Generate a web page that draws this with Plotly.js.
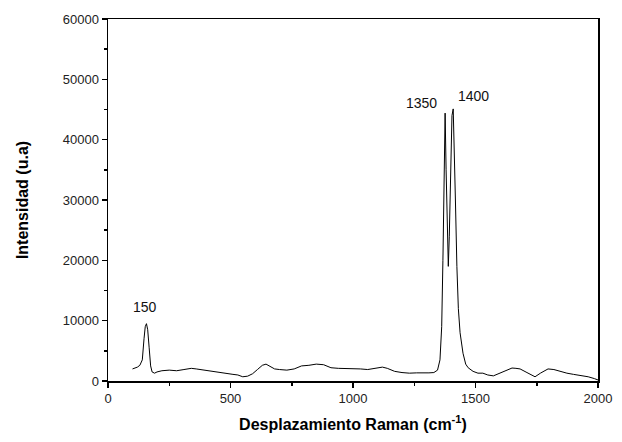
<!DOCTYPE html>
<html>
<head>
<meta charset="utf-8">
<script src="https://cdn.plot.ly/plotly-3.0.1.min.js"></script>
<style>html,body{margin:0;padding:0;background:#fff;}#chart{width:622px;height:442px;}</style>
</head>
<body>
<div id="chart"></div>
<script>
// Raman shift (cm-1)
const ramanShift = [100,110,120,130,140,147,152,157,162,168,174,180,190,200,220,250,280,310,340,360,390,420,450,480,510,530,550,570,590,610,630,645,660,680,700,730,760,790,820,850,880,910,940,970,1000,1030,1060,1090,1120,1140,1170,1200,1230,1260,1290,1310,1330,1345,1355,1362,1367,1371,1376,1380,1385,1389,1393,1398,1404,1409,1414,1418,1424,1430,1437,1449,1460,1470,1490,1510,1530,1550,1573,1600,1625,1649,1665,1682,1710,1743,1765,1796,1820,1850,1873,1900,1930,1960,1985,2000];
// Intensity (u.a)
const intensity = [2000,2100,2300,2600,3500,7000,9000,9500,8500,5500,2500,1500,1300,1500,1700,1800,1700,1900,2100,2000,1800,1700,1400,1200,1100,1000,700,800,1200,1900,2600,2800,2400,2000,1900,1800,2000,2500,2600,2800,2700,2200,2100,2100,2000,2000,1900,2100,2300,2100,1600,1400,1300,1350,1300,1350,1400,1800,3500,9000,20000,33000,44400,35000,24000,19000,24000,35000,44000,45100,38000,30000,19000,12000,8000,4600,2800,2200,1600,1300,1300,1000,850,1300,1800,2150,2100,2000,1400,700,1300,2000,1900,1500,1300,1100,900,700,400,170];
// Peak labels
const peakLabels = ['150','1350','1400'];
const peakShift = [157,1376,1409];
const peakIntensity = [9500,44400,45100];
const xTickVals = [0,500,1000,1500,2000];
const yTickVals = [0,10000,20000,30000,40000,50000,60000];

const labelOffsets = [[-1,17],[-24,10],[20,13]];
const annotations = peakLabels.map((t,i)=>({
  x: peakShift[i], y: peakIntensity[i], xref:'x', yref:'y', text: t,
  showarrow:false, xshift: labelOffsets[i][0], yshift: labelOffsets[i][1],
  font:{family:'Liberation Sans, Arial, sans-serif', size:14, color:'#111'}
}));

const font = {family:'Liberation Sans, Arial, sans-serif', size:13, color:'#222'};
Plotly.newPlot('chart', [{
  x: ramanShift, y: intensity, type:'scatter', mode:'lines',
  line:{color:'#000', width:1}, hoverinfo:'skip'
}], {
  width:622, height:442,
  margin:{l:108, r:24, t:19, b:61},
  paper_bgcolor:'#fff', plot_bgcolor:'#fff',
  showlegend:false,
  font: font,
  xaxis:{
    range:[0,2000], tickvals:xTickVals, ticks:'outside', ticklen:5, tickwidth:1.5, tickcolor:'#000',
    minor:{ticks:'outside', ticklen:3, tickwidth:1.5, tickcolor:'#000', dtick:250, showgrid:false},
    showline:true, linecolor:'#000', linewidth:1.5, mirror:true, showgrid:false, zeroline:false,
    tickfont:font,
    title:{text:'Desplazamiento Raman (cm<sup>-1</sup>)', standoff:13,
      font:{family:'Liberation Sans, Arial, sans-serif', size:16, color:'#000', weight:'bold'}}
  },
  yaxis:{
    range:[0,60000], tickvals:yTickVals, ticks:'outside', ticklen:5, tickwidth:1.5, tickcolor:'#000',
    minor:{ticks:'outside', ticklen:3, tickwidth:1.5, tickcolor:'#000', dtick:5000, showgrid:false},
    showline:true, linecolor:'#000', linewidth:1.5, mirror:true, showgrid:false, zeroline:false,
    tickfont:font, tickformat:'d',
    title:{text:'Intensidad (u.a)', standoff:30,
      font:{family:'Liberation Sans, Arial, sans-serif', size:16, color:'#000', weight:'bold'}}
  },
  annotations: annotations
}, {staticPlot:true});
</script>
</body>
</html>
